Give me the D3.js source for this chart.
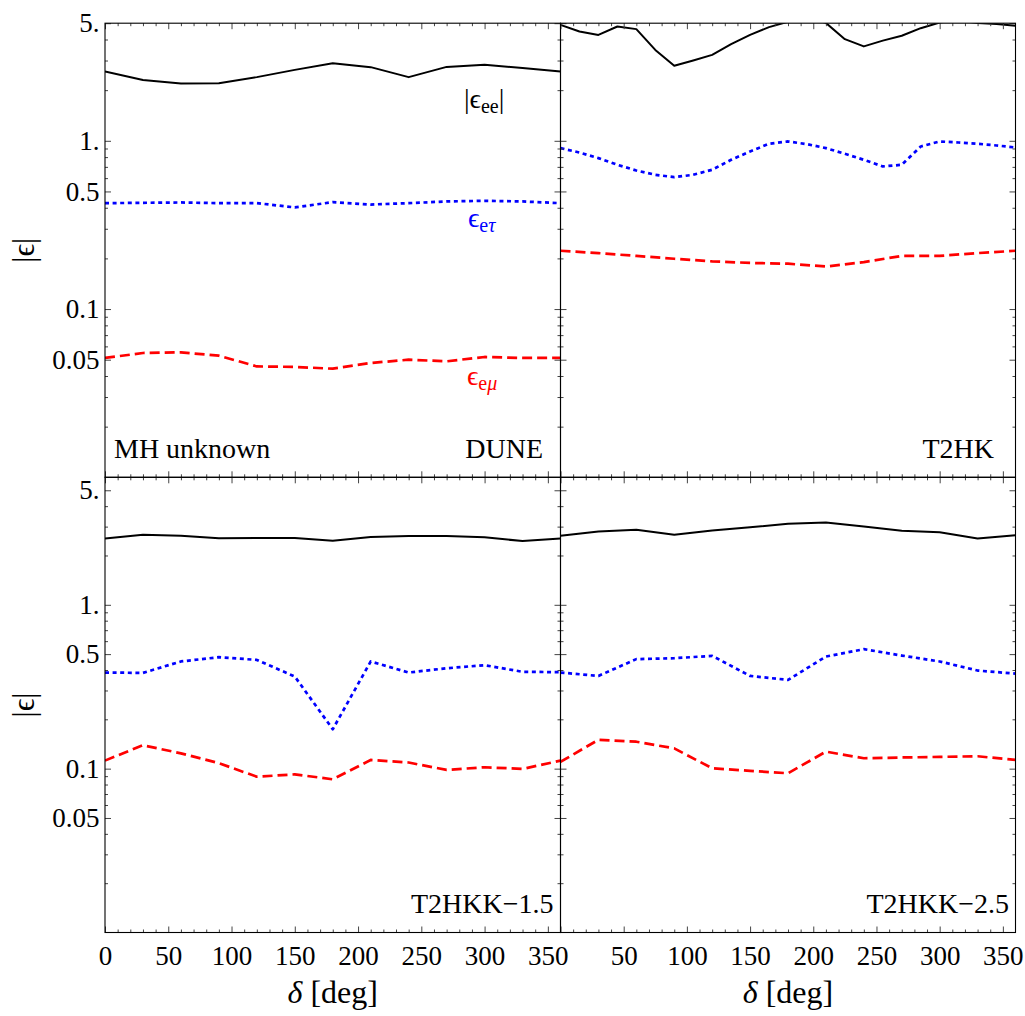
<!DOCTYPE html>
<html><head><meta charset="utf-8">
<script src="https://cdn.jsdelivr.net/npm/d3@7"></script>
<style>
body{margin:0;background:#fff}
svg{display:block}
text{font-family:"Liberation Serif","DejaVu Serif",serif;fill:#000}
</style>
</head><body>
<script>
// ---- data ----
const delta30 = [0,30,60,90,120,150,180,210,240,270,300,330,360];
const delta15 = [0,15,30,45,60,75,90,105,120,135,150,165,180,195,210,225,240,255,270,285,300,315,330,345,360];

// DUNE (MH unknown)
const duneEE   = [2.58,2.30,2.19,2.20,2.39,2.64,2.89,2.74,2.39,2.75,2.83,2.71,2.58];
const duneETau = [0.426,0.428,0.430,0.426,0.426,0.402,0.432,0.418,0.426,0.436,0.440,0.436,0.426];
const duneEMu  = [0.0512,0.0548,0.0553,0.0528,0.0456,0.0453,0.0442,0.0478,0.0500,0.0489,0.0519,0.0512,0.0512];
// T2HK
const t2hkEE   = [4.89,4.46,4.26,4.78,4.61,3.47,2.79,3.00,3.24,3.75,4.26,4.74,5.10,5.40,5.02,4.02,3.64,3.94,4.21,4.67,5.05,5.20,5.02,4.94,4.83];
const t2hkETau = [0.905,0.852,0.789,0.720,0.666,0.628,0.608,0.628,0.673,0.771,0.864,0.960,0.991,0.955,0.905,0.837,0.771,0.704,0.720,0.925,0.991,0.977,0.960,0.938,0.913];
const t2hkEMu  = [0.222,0.215,0.207,0.199,0.192,0.188,0.186,0.179,0.190,0.207,0.207,0.215,0.222];
// T2HKK-1.5
const t2hkk15EE   = [2.54,2.68,2.64,2.55,2.56,2.56,2.46,2.59,2.63,2.63,2.58,2.45,2.54];
const t2hkk15ETau = [0.386,0.384,0.451,0.479,0.461,0.365,0.174,0.451,0.386,0.410,0.428,0.390,0.388];
const t2hkk15EMu  = [0.112,0.139,0.124,0.108,0.0893,0.0923,0.0861,0.113,0.109,0.0982,0.102,0.0996,0.112];
// T2HKK-2.5
const t2hkk25EE   = [2.64,2.80,2.87,2.68,2.84,2.97,3.12,3.18,3.01,2.83,2.77,2.54,2.66];
const t2hkk25ETau = [0.386,0.368,0.466,0.472,0.488,0.368,0.348,0.483,0.536,0.490,0.451,0.397,0.380];
const t2hkk25EMu  = [0.110,0.150,0.146,0.133,0.1005,0.097,0.0937,0.127,0.1157,0.117,0.118,0.119,0.113];

// ticks
const xMajorTicks = [0,50,100,150,200,250,300,350];
const xMinorTicks = d3.range(10,360,10).filter(v => v % 50 !== 0);
const yMajorTicks = [0.05,0.1,0.5,1,5];
const yMajorLabels = ["0.05","0.1","0.5","1.","5."];
const yMinorTicks = [0.02,0.03,0.04,0.06,0.07,0.08,0.09,0.2,0.3,0.4,0.6,0.7,0.8,0.9,2,3,4];

// ---- layout ----
const W = 1025, H = 1016;
const colX = [[105,560.5],[560.5,1015.5]];
const rowY = [[23.2,477.3],[477.3,932.5]];
const yMaxRow = [5,6];

const styles = {
  ee:  {stroke:"#000",   width:2.0, dash:null},
  et:  {stroke:"#0000ff",width:2.7, dash:"4,3.6"},
  em:  {stroke:"#ff0000",width:2.7, dash:"10,5"}
};

const panels = [
  {col:0,row:0,name:"DUNE",series:[[delta30,duneEE,"ee"],[delta30,duneETau,"et"],[delta30,duneEMu,"em"]]},
  {col:1,row:0,name:"T2HK",series:[[delta15,t2hkEE,"ee"],[delta15,t2hkETau,"et"],[delta30,t2hkEMu,"em"]]},
  {col:0,row:1,name:"T2HKK\u22121.5",series:[[delta30,t2hkk15EE,"ee"],[delta30,t2hkk15ETau,"et"],[delta30,t2hkk15EMu,"em"]]},
  {col:1,row:1,name:"T2HKK\u22122.5",series:[[delta30,t2hkk25EE,"ee"],[delta30,t2hkk25ETau,"et"],[delta30,t2hkk25EMu,"em"]]}
];

const svg = d3.select("body").append("svg").attr("width",W).attr("height",H);
const defs = svg.append("defs");
const tickColor = "#444";
const FS = 27;

panels.forEach((p,i) => {
  const [x0,x1] = colX[p.col], [y0,y1] = rowY[p.row];
  const x = d3.scaleLinear().domain([0,360]).range([x0,x1]);
  const y = d3.scaleLog().domain([0.01,yMaxRow[p.row]]).range([y1,y0]);

  defs.append("clipPath").attr("id","clip"+i).append("rect")
    .attr("x",x0).attr("y",y0).attr("width",x1-x0).attr("height",y1-y0);

  const g = svg.append("g");

  // curves
  const gl = g.append("g").attr("clip-path",`url(#clip${i})`);
  p.series.forEach(([xs,ys,key]) => {
    const st = styles[key];
    const line = d3.line().x((d,k)=>x(xs[k])).y(d=>y(d)).curve(d3.curveLinear);
    gl.append("path").datum(ys).attr("d",line).attr("fill","none")
      .attr("stroke",st.stroke).attr("stroke-width",st.width)
      .attr("stroke-dasharray",st.dash).attr("stroke-linejoin","round");
  });

  // axes helper
  function ax(axisFn, scale, vals, size, transform, fmt, pad){
    const a = axisFn(scale).tickValues(vals).tickSize(size).tickSizeOuter(0)
      .tickFormat(fmt || (()=>"")).tickPadding(pad||0);
    const ag = g.append("g").attr("transform",transform).call(a);
    ag.select(".domain").remove();
    ag.selectAll("line").attr("stroke",tickColor).attr("stroke-width",1);
    ag.selectAll("text").attr("font-size",FS).attr("fill","#000")
      .style("font-family",'"Liberation Serif","DejaVu Serif",serif');
    return ag;
  }
  const showXLabels = p.row === 1;
  const xLabVals = p.col === 0 ? xMajorTicks : xMajorTicks.filter(v=>v!==0);
  // bottom
  ax(d3.axisBottom, x, xMinorTicks, -3, `translate(0,${y1})`);
  ax(d3.axisBottom, x, xMajorTicks, -6, `translate(0,${y1})`);
  if (showXLabels) {
    ax(d3.axisBottom, x, xLabVals, 0, `translate(0,${y1})`, d=>d, 13).selectAll("line").remove();
  }
  // top
  ax(d3.axisTop, x, xMinorTicks, -3, `translate(0,${y0})`);
  ax(d3.axisTop, x, xMajorTicks, -6, `translate(0,${y0})`);
  // left
  ax(d3.axisLeft, y, yMinorTicks, -3, `translate(${x0},0)`);
  ax(d3.axisLeft, y, yMajorTicks, -6, `translate(${x0},0)`);
  if (p.col === 0) {
    ax(d3.axisLeft, y, yMajorTicks, 0, `translate(${x0},0)`, d=>yMajorLabels[yMajorTicks.indexOf(d)], 5.5)
      .selectAll("line").remove();
  }
  // right
  ax(d3.axisRight, y, yMinorTicks, -3, `translate(${x1},0)`);
  ax(d3.axisRight, y, yMajorTicks, -6, `translate(${x1},0)`);

  // frame
  g.append("rect").attr("x",x0).attr("y",y0).attr("width",x1-x0).attr("height",y1-y0)
    .attr("fill","none").attr("stroke","#000").attr("stroke-width",1.1);

  // panel name
  const nameX = p.col===0 ? (p.row===0 ? 543 : 553.5) : (p.row===0 ? 994 : 1009);
  const nameY = p.row===0 ? 458 : 913;
  g.append("text").attr("x",nameX).attr("y",nameY).attr("text-anchor","end")
    .attr("font-size",28).text(p.name);
  if (i===0) {
    g.append("text").attr("x",114).attr("y",458).attr("font-size",28).text("MH unknown");
  }

  // x axis title
  if (p.row===1) {
    const t = svg.append("text").attr("x",(x0+x1)/2).attr("y",1003)
      .attr("text-anchor","middle").attr("font-size",32);
    t.append("tspan").attr("font-style","italic").text("\u03b4");
    t.append("tspan").text(" [deg]");
  }
  // y axis title
  if (p.col===0) {
    svg.append("text").attr("transform",`translate(34,${(y0+y1)/2}) rotate(-90)`)
      .attr("text-anchor","middle").attr("font-size",31).text("|\u03f5|");
  }
});

// annotations (DUNE panel)
const ann = svg.append("g");
const a1 = ann.append("text").attr("x",464).attr("y",108).attr("font-size",28);
a1.append("tspan").text("|\u03f5");
a1.append("tspan").attr("font-size",20).attr("dy",5).text("ee");
a1.append("tspan").attr("dy",-5).text("|");
const a2 = ann.append("text").attr("x",468).attr("y",227).attr("font-size",28).style("fill","#0000ff");
a2.append("tspan").text("\u03f5");
a2.append("tspan").attr("font-size",20).attr("dy",5).text("e");
a2.append("tspan").attr("font-size",20).attr("font-style","italic").text("\u03c4");
const a3 = ann.append("text").attr("x",467).attr("y",385).attr("font-size",28).style("fill","#ff0000");
a3.append("tspan").text("\u03f5");
a3.append("tspan").attr("font-size",20).attr("dy",5).text("e");
a3.append("tspan").attr("font-size",20).attr("font-style","italic").text("\u03bc");
</script>
</body></html>
